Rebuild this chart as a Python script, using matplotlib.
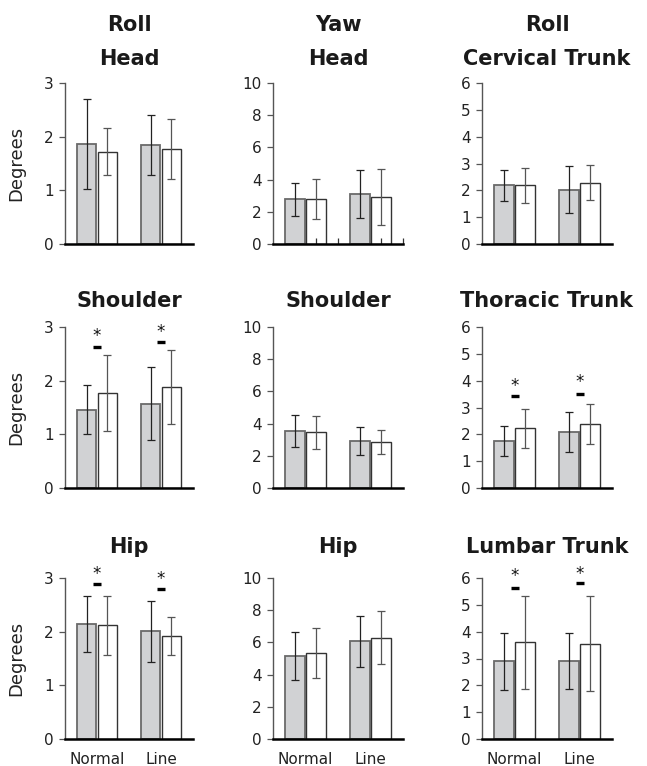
import numpy as np
import matplotlib
matplotlib.use('Agg')
import matplotlib.pyplot as plt

plt.rcParams['font.family'] = ['DejaVu Sans']

# panel titles, one row per body segment
panel_titles = [
    ['Roll\nHead', 'Yaw\nHead', 'Roll\nCervical Trunk'],
    ['Shoulder', 'Shoulder', 'Thoracic Trunk'],
    ['Hip', 'Hip', 'Lumbar Trunk'],
]
conditions = ['Normal', 'Line']
y_max = [3, 10, 6]     # per column
y_step = [1, 2, 1]

# means / SD, [row][col][Normal, Line]; grey bars = cond1, white bars = cond2
cond1_mean = [
    [[1.86, 1.84], [2.77, 3.08], [2.19, 2.03]],
    [[1.46, 1.57], [3.55, 2.93], [1.75, 2.08]],
    [[2.15, 2.01], [5.15, 6.06], [2.89, 2.91]],
]
cond1_sd = [
    [[0.84, 0.56], [1.04, 1.49], [0.57, 0.86]],
    [[0.46, 0.68], [1.00, 0.85], [0.56, 0.75]],
    [[0.52, 0.57], [1.50, 1.60], [1.05, 1.05]],
]
cond2_mean = [
    [[1.72, 1.77], [2.79, 2.91], [2.19, 2.28]],
    [[1.77, 1.88], [3.45, 2.87], [2.22, 2.39]],
    [[2.12, 1.92], [5.35, 6.29], [3.60, 3.55]],
]
cond2_sd = [
    [[0.44, 0.56], [1.22, 1.72], [0.65, 0.65]],
    [[0.71, 0.69], [1.04, 0.75], [0.74, 0.75]],
    [[0.55, 0.35], [1.55, 1.66], [1.74, 1.77]],
]

# significant differences: panel (row, col), bar level and star level per group
sig_panels = [(1, 0), (1, 2), (2, 0), (2, 2)]
sig_bar_y = [[2.62, 2.72], [3.42, 3.52], [2.89, 2.80], [5.63, 5.80]]
sig_star_y = [[2.89, 2.97], [3.92, 4.08], [3.14, 3.04], [6.19, 6.27]]

W, H = 647, 766
fig = plt.figure(figsize=(W / 100, H / 100), dpi=100)

col_left = [65, 273, 482]
col_width = [128, 130, 130]
row_bottom = [244, 488, 739]
ax_height = 161
title_pad = [13, 14.5, 18]

x = np.arange(len(conditions))
bw = 0.30
off = 0.16

axes = {}
for r in range(3):
    for c in range(3):
        ax = fig.add_axes([col_left[c] / W, 1 - row_bottom[r] / H,
                           col_width[c] / W, ax_height / H])
        axes[(r, c)] = ax
        m1, s1 = cond1_mean[r][c], cond1_sd[r][c]
        m2, s2 = cond2_mean[r][c], cond2_sd[r][c]
        ax.bar(x - off, m1, bw, color='#d1d2d4', edgecolor='#6a6a6a', linewidth=1.3, zorder=2)
        ax.bar(x + off, m2, bw, color='white', edgecolor='#333333', linewidth=1.0, zorder=2)
        ax.errorbar(x - off, m1, yerr=s1, fmt='none', ecolor='#222222',
                    elinewidth=0.9, capsize=2.6, capthick=0.9, zorder=3)
        ax.errorbar(x + off, m2, yerr=s2, fmt='none', ecolor='#555555',
                    elinewidth=0.9, capsize=2.6, capthick=0.9, zorder=3)

        ax.set_xlim(-0.5, 1.5)
        ax.set_ylim(0, y_max[c])
        ax.set_yticks(np.arange(0, y_max[c] + 0.1, y_step[c]))
        for s in ['top', 'right']:
            ax.spines[s].set_visible(False)
        ax.spines['left'].set_color('#555555')
        ax.spines['left'].set_linewidth(1.0)
        ax.spines['bottom'].set_color('black')
        ax.spines['bottom'].set_linewidth(1.8)
        ax.spines['bottom'].set_zorder(4)
        ax.tick_params(axis='y', length=4, width=0.9, color='#555555',
                       labelsize=11, labelcolor='#222222', pad=4)

        if r == 2:
            ax.set_xticks(x)
            ax.set_xticklabels(conditions)
            ax.tick_params(axis='x', length=0, labelsize=11, labelcolor='#222222', pad=9)
        elif (r, c) == (0, 1):
            ax.set_axisbelow(False)
            ax.set_xticks([0.16, 0.5, 1.16, 1.5])
            ax.set_xticklabels([])
            ax.tick_params(axis='x', direction='in', length=4.5, width=0.9, color='#333333')
        else:
            ax.set_xticks([])

        if c == 0:
            ax.set_ylabel('Degrees', fontsize=13, color='#222222')
            ax.yaxis.set_label_coords(-0.31, 0.5)

        ax.set_title(panel_titles[r][c], fontsize=15, fontweight='bold',
                     color='#1a1a1a', pad=title_pad[r], linespacing=1.87)

# significance markers: short dash with an asterisk above
for (r, c), bars_y, stars_y in zip(sig_panels, sig_bar_y, sig_star_y):
    ax = axes[(r, c)]
    ax.plot(x, bars_y, linestyle='none', marker='_', markersize=6,
            markeredgewidth=2.4, color='black', zorder=5, clip_on=False)
    for xi, sy in zip(x, stars_y):
        ax.annotate('*', (xi, sy), xytext=(0, -6), textcoords='offset points',
                    ha='center', va='baseline', fontsize=12, color='#111111',
                    annotation_clip=False)

fig.savefig('out.png', dpi=100)
